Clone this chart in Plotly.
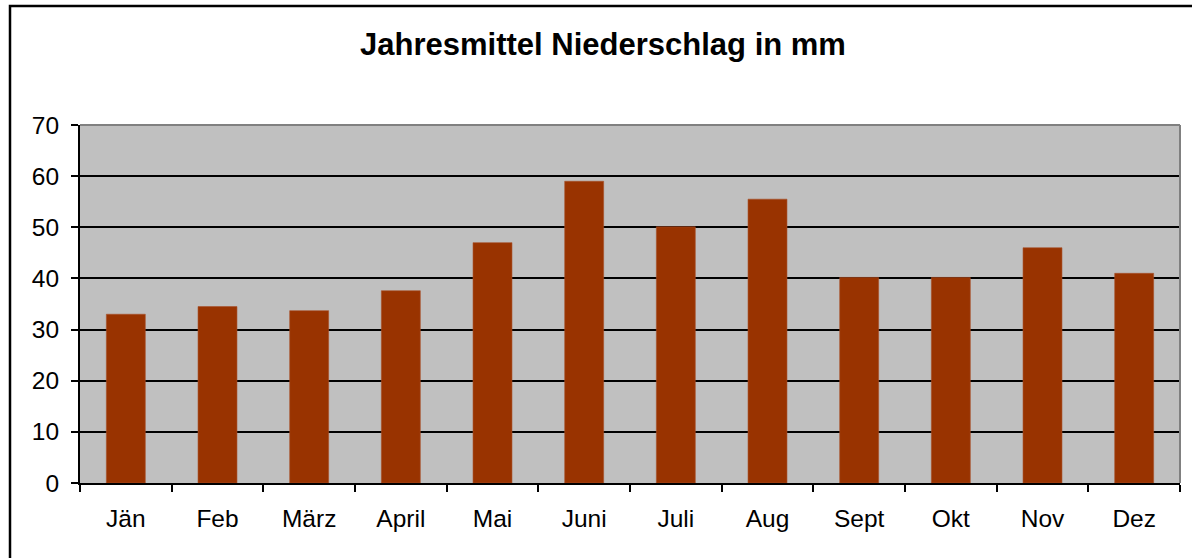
import plotly.graph_objects as go

months = ["Jän", "Feb", "März", "April", "Mai", "Juni", "Juli", "Aug", "Sept", "Okt", "Nov", "Dez"]
precip_mm = [33.0, 34.5, 33.7, 37.6, 47.0, 59.0, 50.1, 55.5, 40.2, 40.2, 46.0, 41.0]
y_ticks = [0, 10, 20, 30, 40, 50, 60, 70]
title_text = "Jahresmittel Niederschlag in mm"

W, H = 1192, 558
L, R, T, B = 80, 12, 125, 75
pw, ph = W - L - R, H - T - B

def px_x(x):
    return (x - L) / pw

def px_y(y):
    return (H - B - y) / ph

fig = go.Figure()
fig.add_trace(go.Bar(
    x=months, y=precip_mm,
    marker=dict(color="#993300", line=dict(color="#A8502A", width=0.6)),
))

font_family = "Liberation Sans, Arial, sans-serif"

fig.update_layout(
    width=W, height=H,
    margin=dict(l=L, r=R, t=T, b=B, autoexpand=False),
    paper_bgcolor="white",
    plot_bgcolor="#C0C0C0",
    bargap=0.575,
    showlegend=False,
    font=dict(family=font_family, color="black", size=24.5),
    title=dict(text="<b>" + title_text + "</b>", x=603 / W, xanchor="center",
               y=1 - 44 / H, yanchor="middle",
               font=dict(family=font_family, size=31, color="black")),
    xaxis=dict(
        type="category", tickson="boundaries", ticks="outside", ticklen=7,
        tickwidth=2, tickcolor="black", showline=True, linecolor="black", linewidth=2,
        showgrid=False, tickfont=dict(size=24.5), ticklabelstandoff=13,
    ),
    yaxis=dict(
        range=[0, 70], tickvals=y_ticks, ticks="outside", ticklen=7, tickwidth=2,
        tickcolor="black", showline=True, linecolor="black", linewidth=2,
        showgrid=True, gridcolor="black", gridwidth=2, zeroline=False,
        tickfont=dict(size=24.5), ticklabelstandoff=7,
    ),
)

# grey top and right border of the plot area
fig.add_shape(type="line", xref="paper", yref="paper", x0=0, x1=1, y0=1, y1=1,
              line=dict(color="#808080", width=2), layer="above")
fig.add_shape(type="line", xref="paper", yref="paper", x0=1, x1=1, y0=0, y1=1,
              line=dict(color="#808080", width=2), layer="above")

# outer chart frame (left and top visible)
fig.add_shape(type="rect", xref="paper", yref="paper",
              x0=px_x(10), x1=px_x(1240), y0=px_y(620), y1=px_y(6),
              line=dict(color="black", width=2.5), layer="above")

fig.write_html(
    "out.html",
    config={"displayModeBar": False},
    post_script="document.body.style.margin='0';document.body.style.overflow='hidden';",
)
